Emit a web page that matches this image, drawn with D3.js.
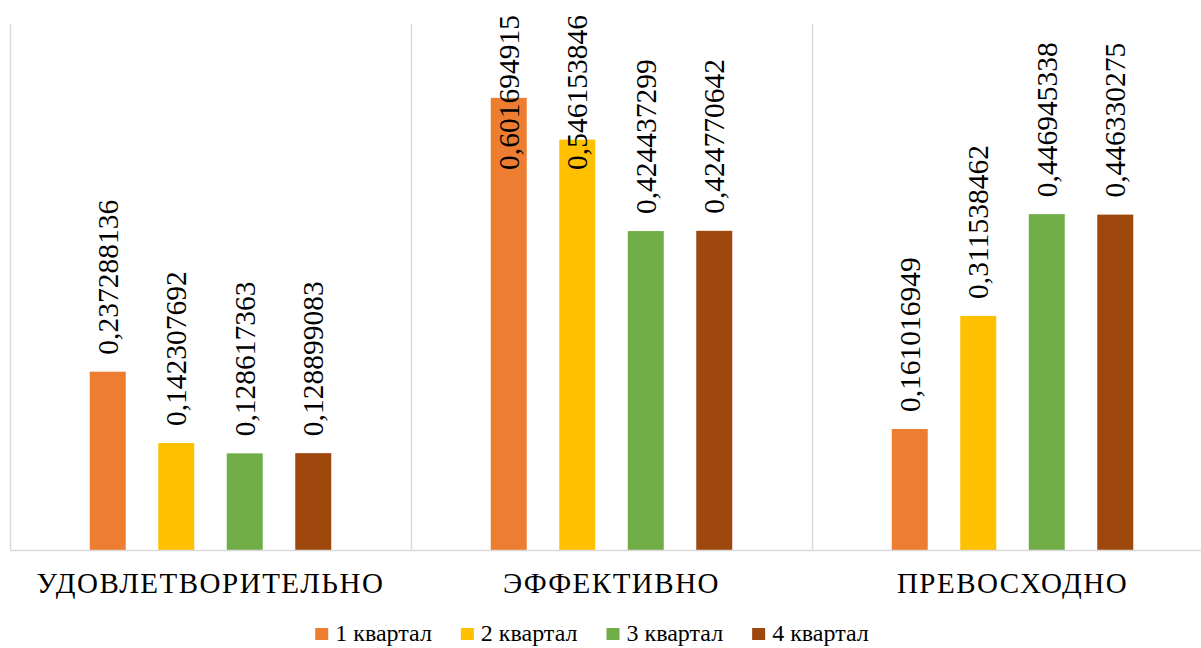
<!DOCTYPE html>
<html>
<head>
<meta charset="utf-8">
<script src="https://cdn.jsdelivr.net/npm/d3@7/dist/d3.min.js"></script>
</head>
<body style="margin:0">
<svg id="chart" width="1201" height="648" style="font-family: 'Liberation Serif', serif"></svg>
<script>
// ---- data ----
const categories = ["УДОВЛЕТВОРИТЕЛЬНО", "ЭФФЕКТИВНО", "ПРЕВОСХОДНО"];
const seriesNames = ["1 квартал", "2 квартал", "3 квартал", "4 квартал"];
const q1 = [0.237288136, 0.601694915, 0.161016949];
const q2 = [0.142307692, 0.546153846, 0.311538462];
const q3 = [0.128617363, 0.424437299, 0.446945338];
const q4 = [0.128899083, 0.424770642, 0.446330275];
const colors = ["#ED7D31", "#FFC000", "#70AD47", "#9E480E"];
const seriesValues = [q1, q2, q3, q4];

// ---- layout ----
const FONT = "'Liberation Serif', serif";
const plot = { left: 10, right: 1213, top: 24, bottom: 550 };
const svg = d3.select("#chart");

const x0 = d3.scaleBand().domain(categories).range([plot.left, plot.right]).padding(0);
const x1 = d3.scaleBand().domain(seriesNames).range([0, x0.bandwidth()])
  .paddingInner(0.4745).paddingOuter(1.164);
const y = d3.scaleLinear().domain([0, 0.7]).range([plot.bottom, plot.top]);

// vertical category separators
const sepX = categories.map(c => x0(c)).concat([x0(categories[categories.length - 1]) + x0.bandwidth()]);
svg.append("g").selectAll("line").data(sepX).join("line")
  .attr("x1", d => Math.round(d) + 0.5).attr("x2", d => Math.round(d) + 0.5)
  .attr("y1", plot.top).attr("y2", plot.bottom)
  .attr("stroke", "#d9d9d9").attr("stroke-width", 1.5);

// bars
const rows = [];
categories.forEach((c, ci) => {
  seriesNames.forEach((s, si) => {
    rows.push({ cat: c, ser: s, si, v: seriesValues[si][ci] });
  });
});

svg.append("g").selectAll("rect").data(rows).join("rect")
  .attr("x", d => x0(d.cat) + x1(d.ser))
  .attr("y", d => y(d.v))
  .attr("width", x1.bandwidth())
  .attr("height", d => y(0) - y(d.v))
  .attr("fill", d => colors[d.si]);

// baseline
svg.append("line")
  .attr("x1", plot.left).attr("x2", plot.right)
  .attr("y1", plot.bottom + 0.5).attr("y2", plot.bottom + 0.5)
  .attr("stroke", "#d9d9d9").attr("stroke-width", 1.5);

// value labels (rotated)
const labelSize = 29.5;
const gLab = svg.append("g");
const labelData = rows.map(d => ({ ...d, txt: String(d.v).replace(".", ",") }));
const labels = gLab.selectAll("text").data(labelData).join("text")
  .style("font-family", FONT)
  .style("font-size", labelSize + "px")
  .style("fill", "#000")
  .text(d => d.txt);
labels.attr("transform", function (d) {
  const cx = x0(d.cat) + x1(d.ser) + x1.bandwidth() / 2;
  const len = this.getComputedTextLength();
  let start = y(d.v) - 17;
  if (start - len < 15) start = 15 + len;
  return `translate(${cx + labelSize * 0.34},${start}) rotate(-90)`;
});

// category labels
svg.append("g").selectAll("text").data(categories).join("text")
  .attr("x", d => x0(d) + x0.bandwidth() / 2)
  .attr("y", 593)
  .attr("text-anchor", "middle")
  .style("font-family", FONT)
  .style("font-size", "29px")
  .style("letter-spacing", "1.5px")
  .style("fill", "#000")
  .text(d => d);

// legend
const legend = svg.append("g");
const items = legend.selectAll("g").data(seriesNames).join("g");
items.append("rect").attr("x", 0).attr("y", 628).attr("width", 13).attr("height", 12)
  .attr("fill", (d, i) => colors[i]);
items.append("text").attr("x", 20).attr("y", 641)
  .style("font-family", FONT).style("font-size", "24px").style("fill", "#000").text(d => d);
let acc = 0;
const widths = [];
items.each(function () {
  widths.push(20 + d3.select(this).select("text").node().getComputedTextLength());
});
const gap = 29;
const total = d3.sum(widths) + gap * (widths.length - 1);
const startX = 592 - total / 2;
items.attr("transform", (d, i) => {
  const tx = startX + acc;
  acc += widths[i] + gap;
  return `translate(${tx},0)`;
});
</script>
</body>
</html>
